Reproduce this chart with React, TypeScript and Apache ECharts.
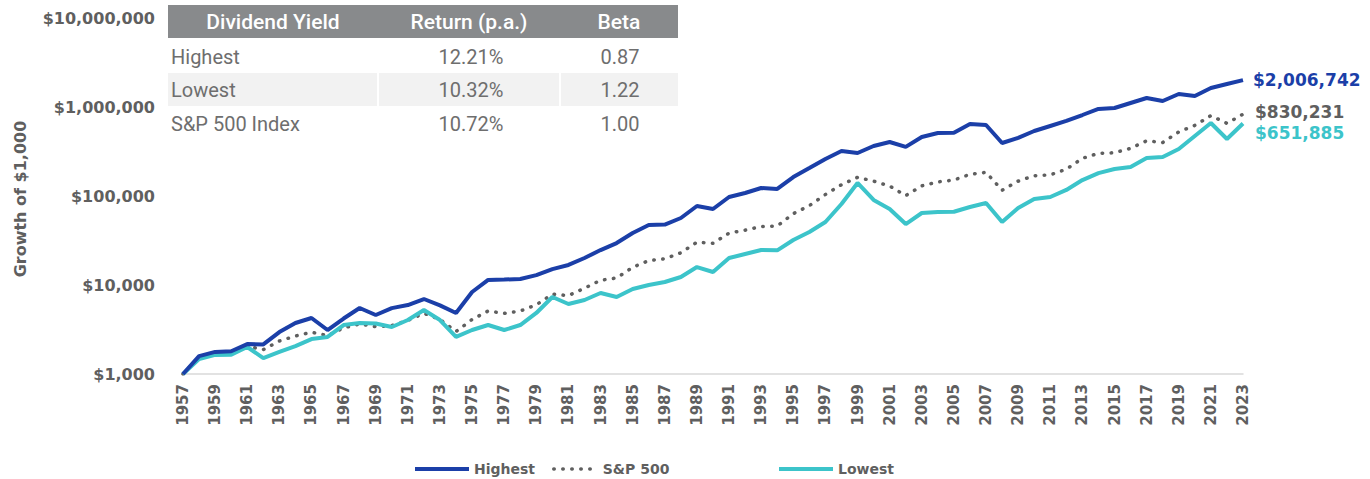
import React, { useEffect, useRef } from "react";
import * as echarts from "echarts";

const years: string[] = [];
for (let y = 1957; y <= 2023; y++) years.push(String(y));

const highest = [
  1000, 1590, 1770, 1800, 2170, 2150, 2960, 3740, 4260, 3120,
  4200, 5520, 4600, 5500, 5960, 6960, 5900, 4850, 8340, 11400,
  11500, 11700, 12900, 15100, 16800, 20100, 24700, 29600, 38400, 47200,
  47800, 56600, 77200, 71400, 97500, 108000, 123000, 120000, 163000, 206000,
  261000, 321000, 304000, 365000, 404000, 356000, 460000, 510000, 515000, 644000,
  628000, 394000, 449000, 537000, 612000, 697000, 813000, 950000, 975000, 1109000,
  1262000, 1167000, 1400000, 1330000, 1634000, 1812000, 2006742,
];

const sp500 = [
  1000, 1550, 1720, 1730, 2050, 1880, 2350, 2670, 2950, 2700,
  3300, 3650, 3400, 3500, 4000, 4800, 4100, 3000, 4100, 5100,
  4800, 5100, 6000, 7900, 7600, 9200, 11300, 12000, 15800, 18800,
  19700, 23000, 30300, 29400, 38300, 41300, 45400, 46000, 63300, 77900,
  104000, 134000, 162000, 147000, 129500, 101000, 130000, 144000, 151000, 175000,
  184500, 116000, 147000, 169000, 173000, 200000, 265000, 302000, 306000, 343000,
  417000, 399000, 525000, 621000, 800000, 655000, 830231,
];

const lowest = [
  1000, 1470, 1640, 1650, 2010, 1510, 1770, 2060, 2470, 2610,
  3550, 3740, 3700, 3370, 4040, 5240, 4040, 2610, 3120, 3550,
  3120, 3550, 4850, 7330, 6120, 6780, 8130, 7330, 9020, 10000,
  10800, 12300, 15900, 14000, 20100, 22300, 24700, 24500, 32000, 39400,
  51000, 81300, 140000, 90200, 71400, 48400, 64400, 66100, 66500, 75200,
  83400, 51000, 73300, 92500, 97500, 117000, 151000, 181000, 201000, 212000,
  267000, 274000, 337000, 472000, 661000, 437000, 651885,
];

const tableHeaders = ["Dividend Yield", "Return (p.a.)", "Beta"];
const tableNames = ["Highest", "Lowest", "S&P 500 Index"];
const tableReturns = ["12.21%", "10.32%", "10.72%"];
const tableBetas = ["0.87", "1.22", "1.00"];

const BLUE = "#1b3fa8";
const CYAN = "#3cc4ca";
const GREY = "#5f5f5f";
const FONT = "'DejaVu Sans', sans-serif";
const TFONT = "Roboto, sans-serif";

const fmt = (v: number) => "$" + Math.round(v).toLocaleString("en-US");

export default function App() {
  const ref = useRef<HTMLDivElement>(null);
  useEffect(() => {
    if (!ref.current) return;
    const chart = echarts.init(ref.current, null, { renderer: "svg" });

    const rowY = [57, 90, 124];
    const colX = [168, 378, 560, 678];
    const graphics: any[] = [
      { type: "rect", shape: { x: colX[0], y: 5, width: colX[3] - colX[0], height: 33 }, style: { fill: "#888a8c" } },
      { type: "rect", shape: { x: colX[0], y: 73, width: colX[1] - colX[0] - 1, height: 33 }, style: { fill: "#f2f2f2" } },
      { type: "rect", shape: { x: colX[1] + 1, y: 73, width: colX[2] - colX[1] - 2, height: 33 }, style: { fill: "#f2f2f2" } },
      { type: "rect", shape: { x: colX[2] + 1, y: 73, width: colX[3] - colX[2] - 1, height: 33 }, style: { fill: "#f2f2f2" } },
    ];
    tableHeaders.forEach((h, i) => {
      graphics.push({
        type: "text",
        x: (colX[i] + colX[i + 1]) / 2,
        y: 22,
        style: { text: h, fill: "#ffffff", font: `500 21px ${TFONT}`, align: "center", verticalAlign: "middle" },
      });
    });
    tableNames.forEach((n, i) => {
      graphics.push({
        type: "text", x: 171, y: rowY[i],
        style: { text: n, fill: "#6e6e6e", font: `400 20px ${TFONT}`, align: "left", verticalAlign: "middle" },
      });
      graphics.push({
        type: "text", x: 471, y: rowY[i],
        style: { text: tableReturns[i], fill: "#6e6e6e", font: `400 20px ${TFONT}`, align: "center", verticalAlign: "middle" },
      });
      graphics.push({
        type: "text", x: 620, y: rowY[i],
        style: { text: tableBetas[i], fill: "#6e6e6e", font: `400 20px ${TFONT}`, align: "center", verticalAlign: "middle" },
      });
    });
    graphics.push({
      type: "text", x: 20, y: 199, rotation: Math.PI / 2,
      style: { text: "Growth of $1,000", fill: GREY, font: `bold 16px ${FONT}`, align: "center", verticalAlign: "middle" },
    });

    const legendText = { color: GREY, fontSize: 14, fontWeight: "bold", fontFamily: FONT };
    const legendItem = { color: "transparent", borderColor: "transparent", borderWidth: 0 };

    chart.setOption({
      animation: false,
      grid: { left: 183, right: 127, top: 18, bottom: 105, containLabel: false },
      legend: [
        {
          data: ["Highest"], left: 408, top: 457, itemWidth: 54, itemHeight: 14,
          itemStyle: legendItem, lineStyle: { width: 4 }, textStyle: legendText,
        },
        {
          data: ["S&P 500"], left: 547, top: 457, itemWidth: 44, itemHeight: 14,
          itemStyle: legendItem, lineStyle: { width: 3.5 }, textStyle: legendText,
        },
        {
          data: ["Lowest"], left: 772, top: 457, itemWidth: 54, itemHeight: 14,
          itemStyle: legendItem, lineStyle: { width: 4 }, textStyle: legendText,
        },
      ],
      xAxis: {
        type: "category",
        data: years,
        boundaryGap: false,
        axisLine: { show: true, lineStyle: { color: "#d9d9d9", width: 1.5 } },
        axisTick: { show: false },
        axisLabel: {
          interval: 1,
          rotate: 90,
          margin: 10,
          color: GREY,
          fontSize: 15,
          fontWeight: "bold",
          fontFamily: FONT,
        },
        splitLine: { show: false },
      },
      yAxis: {
        type: "log",
        logBase: 10,
        min: 1000,
        max: 10000000,
        axisLine: { show: false },
        axisTick: { show: false },
        splitLine: { show: false },
        axisLabel: {
          margin: 28,
          color: GREY,
          fontSize: 16,
          fontWeight: "bold",
          fontFamily: FONT,
          formatter: (v: number) => fmt(v),
        },
      },
      graphic: graphics,
      series: [
        {
          name: "Highest",
          type: "line",
          data: highest,
          symbol: "none",
          lineStyle: { color: BLUE, width: 4 },
          itemStyle: { color: BLUE },
          z: 3,
          endLabel: {
            show: true, distance: 10, color: BLUE, fontSize: 17, fontWeight: "bold", fontFamily: FONT,
            formatter: (p: any) => fmt(p.value),
          },
        },
        {
          name: "S&P 500",
          type: "line",
          data: sp500,
          symbol: "none",
          lineStyle: { color: GREY, width: 3.5, type: [0.5, 8.5], cap: "round" },
          itemStyle: { color: GREY },
          z: 2,
          endLabel: {
            show: true, distance: 12, color: GREY, fontSize: 17, fontWeight: "bold", fontFamily: FONT,
            offset: [0, -2],
            formatter: (p: any) => fmt(p.value),
          },
        },
        {
          name: "Lowest",
          type: "line",
          data: lowest,
          symbol: "none",
          lineStyle: { color: CYAN, width: 4 },
          itemStyle: { color: CYAN },
          z: 2,
          endLabel: {
            show: true, distance: 12, color: CYAN, fontSize: 17, fontWeight: "bold", fontFamily: FONT,
            offset: [0, 9],
            formatter: (p: any) => fmt(p.value),
          },
        },
      ],
    });
    return () => chart.dispose();
  }, []);
  return (
    <div
      ref={ref}
      style={{ position: "fixed", left: 0, top: 0, width: 1370, height: 479, background: "#ffffff" }}
    />
  );
}
